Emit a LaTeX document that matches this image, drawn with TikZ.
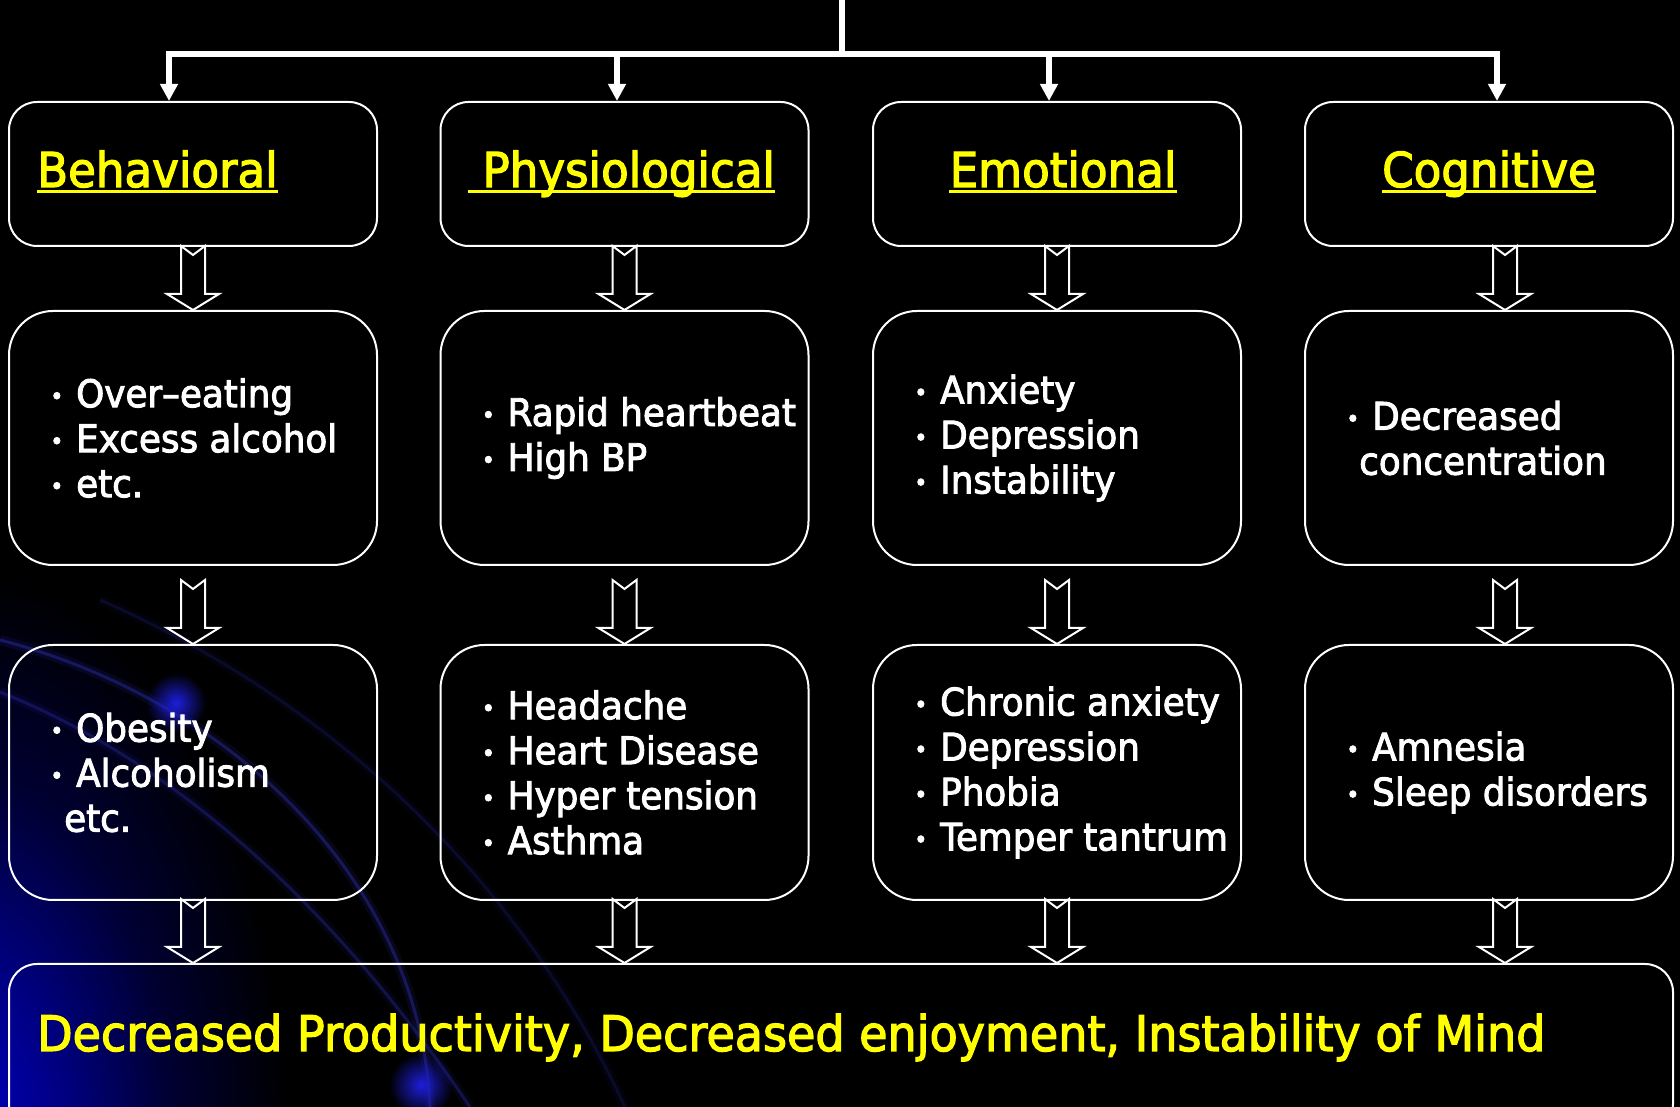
\documentclass[tikz,border=0pt]{standalone}
\usepackage{fontspec}
\setmainfont{DejaVu Sans}[FakeStretch=0.94, FakeBold=2.5]
\usetikzlibrary{arrows.meta,fadings}
\definecolor{SlideYellow}{RGB}{255,255,0}
\definecolor{ArcBlue}{RGB}{50,50,190}
\definecolor{SpotBlue}{RGB}{30,30,220}
\pgfdeclareradialshading{glow}{\pgfpoint{0bp}{0bp}}{color(0bp)=(rgb,255:red,0;green,0;blue,200); color(8bp)=(rgb,255:red,0;green,0;blue,130); color(16bp)=(rgb,255:red,0;green,0;blue,50); color(25bp)=(black); color(50bp)=(black)}
\tikzfading[name=spotfade, inner color=transparent!0, outer color=transparent!100]

\newcommand{\bul}{\makebox[26pt][l]{\fontsize{24}{24}\selectfont\raisebox{2.5pt}{•}}}

\begin{document}
\begin{tikzpicture}[x=1pt, y=1pt, >={Triangle[width=17pt,length=17pt]},
  box/.style={draw=white, line width=2, rounded corners=#1, minimum width=368},
  headbox/.style={box=28, minimum height=144},
  listbox/.style={box=44, minimum height=254},
  headtext/.style={font=\fontsize{48}{56}\selectfont, text=SlideYellow, inner sep=0},
  listtext/.style={font=\fontsize{38}{45}\selectfont, text=white, align=left, anchor=west, inner sep=0},
  blockarrow/.pic={\draw[white, line width=2] (0,0) -- (26,16) -- (12,16) -- (12,64) -- (0,55) -- (-12,64) -- (-12,16) -- (-26,16) -- cycle;}]

% background
\clip (0,0) rectangle (1680,1107);
\fill[black] (0,0) rectangle (1680,1107);
\shade[shading=glow] (-40,-40) ellipse (330 and 580);
\foreach \a/\b/\c/\d/\o in {{0,467}/{230,407}/{420,227}/{430,0}/0.4, {0,415}/{170,347}/{330,207}/{470,0}/0.32, {100,507}/{330,407}/{520,227}/{625,0}/0.18} {
  \draw[ArcBlue, opacity=0.3*\o, line width=10] (\a) .. controls (\b) and (\c) .. (\d);
  \draw[ArcBlue, opacity=\o, line width=3] (\a) .. controls (\b) and (\c) .. (\d);
}
\fill[SpotBlue, path fading=spotfade] (176,404) circle (30);
\fill[SpotBlue, path fading=spotfade] (421,22) circle (32);

% top connector
\coordinate (top) at (842,1107);
\coordinate (t1) at (169,1053);
\coordinate (t2) at (617,1053);
\coordinate (t3) at (1049,1053);
\coordinate (t4) at (1497,1053);
\draw[white, line width=6] (top) -- (top |- t1);
\draw[white, line width=6, line cap=rect] (t1) -- (t4);

% first row
\node[headbox] (r1c1) at (193,933) {};
\node[headbox] (r1c2) at (624.5,933) {};
\node[headbox] (r1c3) at (1057,933) {};
\node[headbox] (r1c4) at (1489,933) {};
\foreach \c in {1,2,3,4}
  \draw[->, white, line width=6] (t\c) -- (t\c |- r1c\c.north);

\node[headtext, anchor=base west] (h1) at (37,920) {Behavioral};
\node[headtext, anchor=base west] (h2) at (468,920) {\ Physiological};
\node[headtext, anchor=base] (h3) at (1063,920) {Emotional};
\node[headtext, anchor=base] (h4) at (1489,920) {Cognitive};
\foreach \c in {1,2,3,4}
  \draw[SlideYellow, line width=3] ([yshift=-5]h\c.base west) -- ([yshift=-5]h\c.base east);

% second row
\node[listbox] (r2c1) at (193,669) {};
\node[listbox] (r2c2) at (624.5,669) {};
\node[listbox] (r2c3) at (1057,669) {};
\node[listbox] (r2c4) at (1489,669) {};
\node[listtext] (l2c1) at ([xshift=42]r2c1.west) {\bul Over--eating\\ \bul Excess alcohol\\ \bul etc.};
\node[listtext] (l2c2) at ([xshift=42]r2c2.west) {\bul Rapid heartbeat\\ \bul High BP};
\node[listtext] (l2c3) at ([xshift=42]r2c3.west) {\bul Anxiety\\ \bul Depression\\ \bul Instability};
\node[listtext] (l2c4) at ([xshift=42]r2c4.west) {\bul Decreased\\ \hspace*{13pt}concentration};

% third row
\node[listbox, minimum height=255] (r3c1) at (193,334.5) {};
\node[listbox, minimum height=255] (r3c2) at (624.5,334.5) {};
\node[listbox, minimum height=255] (r3c3) at (1057,334.5) {};
\node[listbox, minimum height=255] (r3c4) at (1489,334.5) {};
\node[listtext] (l3c1) at ([xshift=42]r3c1.west) {\bul Obesity\\ \bul Alcoholism\\ \hspace*{14pt}etc.};
\node[listtext] (l3c2) at ([xshift=42]r3c2.west) {\bul Headache\\ \bul Heart Disease\\ \bul Hyper tension\\ \bul Asthma};
\node[listtext] (l3c3) at ([xshift=42]r3c3.west) {\bul Chronic anxiety\\ \bul Depression\\ \bul Phobia\\ \bul Temper tantrum};
\node[listtext] (l3c4) at ([xshift=42]r3c4.west) {\bul Amnesia\\ \bul Sleep disorders};

% outcome
\node[box=28, minimum width=1664, minimum height=168] (out) at (841,59) {};
\node[headtext, font=\fontsize{49}{56}\selectfont, anchor=base west] (outtext) at (37,56)
  {Decreased Productivity, Decreased enjoyment, Instability of Mind};

% block arrows
\foreach \c/\dx in {1/0,2/0,3/0,4/16} {
  \pic at ([xshift=\dx]r2c\c.north) {blockarrow};
  \pic at ([xshift=\dx]r3c\c.north) {blockarrow};
  \pic at ([xshift=\dx]out.north -| r3c\c.north) {blockarrow};
}
\end{tikzpicture}
\end{document}
